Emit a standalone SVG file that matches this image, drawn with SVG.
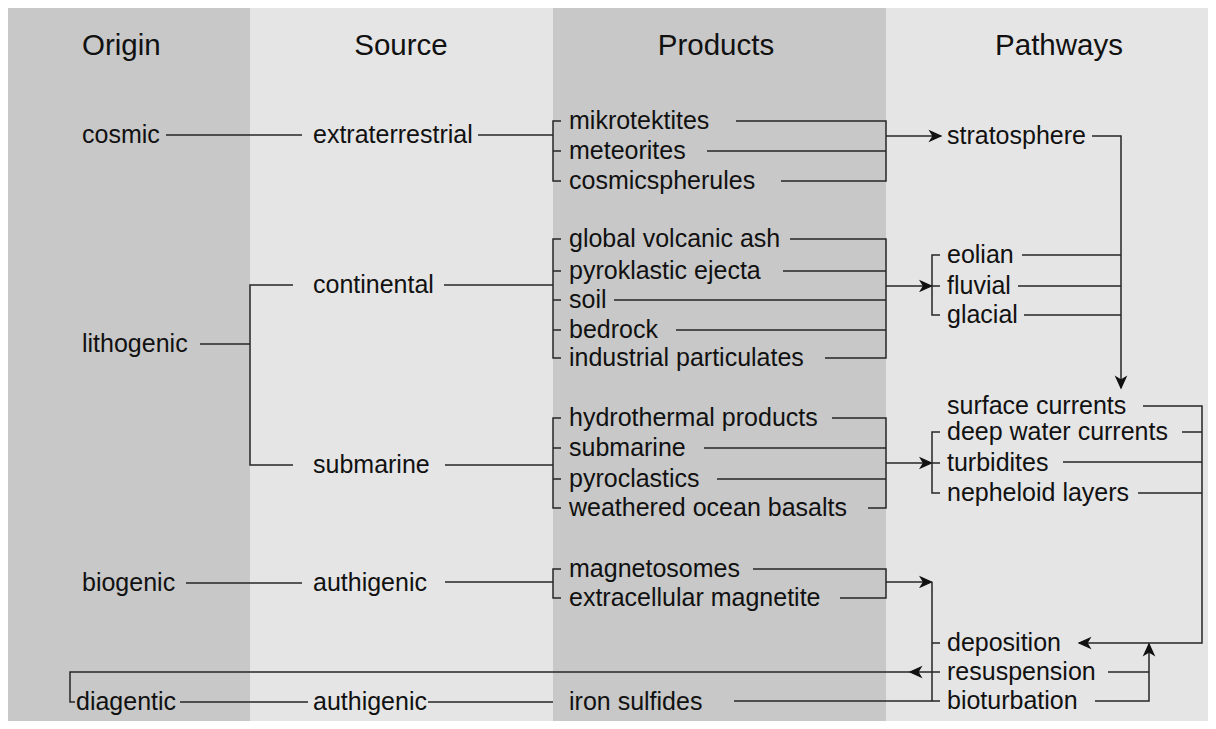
<svg xmlns="http://www.w3.org/2000/svg" width="1216" height="729" viewBox="0 0 1216 729">
<style>
.h{font-family:"Liberation Sans",Arial,sans-serif;font-size:29.5px;fill:#111}
.t{font-family:"Liberation Sans",Arial,sans-serif;font-size:25px;fill:#111}
.c path{fill:none;stroke:#262626;stroke-width:1.5}
</style>
<defs>
<marker id="ar" markerUnits="userSpaceOnUse" markerWidth="16" markerHeight="14" viewBox="-13 -7 16 14" refX="0" refY="0" orient="auto">
<path d="M-11,-5 L0,0 L-11,5 L-8,0 Z" fill="#111" stroke="#111" stroke-width="1.2" stroke-linejoin="miter"/>
</marker>
</defs>
<rect x="0" y="0" width="1216" height="729" fill="#ffffff"/>
<g id="bands">
<rect x="8" y="8" width="242" height="713" fill="#c8c8c8"/>
<rect x="250" y="8" width="303" height="713" fill="#e5e5e5"/>
<rect x="553" y="8" width="333" height="713" fill="#c8c8c8"/>
<rect x="886" y="8" width="322" height="713" fill="#e5e5e5"/>
</g>
<g id="headers">
<text class="h" x="82" y="55">Origin</text>
<text class="h" x="401" y="55" text-anchor="middle">Source</text>
<text class="h" x="716" y="55" text-anchor="middle">Products</text>
<text class="h" x="1059" y="55" text-anchor="middle">Pathways</text>
</g>
<g class="c" id="connectors">
<path d="M166,135 H302"/>
<path d="M478,135 H553"/>
<path d="M561,121 H553 V181 H561 M553,151 H561"/>
<path d="M736,121 H886 V181 H781 M707,151 H886"/>
<path d="M886,136 H941" marker-end="url(#ar)"/>
<path d="M200,344 H250 M293,285 H250 V465 H293"/>
<path d="M444,285 H553"/>
<path d="M561,239 H553 V358 H561 M553,271 H561 M553,300 H561 M553,330 H561"/>
<path d="M790,239 H886 V358 H825 M783,271 H886 M614,300 H886 M676,330 H886"/>
<path d="M886,286 H931.5" marker-end="url(#ar)"/>
<path d="M940,255 H932 V315 H940 M932,286 H940"/>
<path d="M445,465 H553"/>
<path d="M561,418 H553 V508 H561 M553,448 H561 M553,479 H561"/>
<path d="M832,418 H886 V508 H868 M704,448 H886 M717,479 H886"/>
<path d="M886,463 H931.5" marker-end="url(#ar)"/>
<path d="M940,432 H932 V493 H940 M932,463 H940"/>
<path d="M186,583 H302"/>
<path d="M445,582 H553"/>
<path d="M561,569 H553 V598 H561"/>
<path d="M753,569 H886 V598 H840"/>
<path d="M886,582 H931.5" marker-end="url(#ar)"/>
<path d="M932,582 V701 H940 M932,643 H940"/>
<path d="M734,701 H932"/>
<path d="M180,702 H308 M428,702 H553"/>
<path d="M940,672 H910" marker-end="url(#ar)"/>
<path d="M911,672 H70 V702 H75"/>
<path d="M1092,136 H1121 V388" marker-end="url(#ar)"/>
<path d="M1022,255 H1121 M1018,286 H1121 M1024,315 H1121"/>
<path d="M1143,406 H1202 V643 H1079" marker-end="url(#ar)"/>
<path d="M1182,432 H1202 M1063,462 H1202 M1138,493 H1202"/>
<path d="M1108,672 H1149"/>
<path d="M1095,701 H1149 V644" marker-end="url(#ar)"/>
</g>
<g id="n-cosmic"><text class="t" x="82" y="143">cosmic</text></g>
<g id="n-lithogenic"><text class="t" x="82" y="352">lithogenic</text></g>
<g id="n-biogenic"><text class="t" x="82" y="591">biogenic</text></g>
<g id="n-diagentic"><text class="t" x="76" y="710">diagentic</text></g>
<g id="n-extraterrestrial"><text class="t" x="313" y="143">extraterrestrial</text></g>
<g id="n-continental"><text class="t" x="313" y="293">continental</text></g>
<g id="n-submarine-src"><text class="t" x="313" y="473">submarine</text></g>
<g id="n-authigenic-1"><text class="t" x="313" y="591">authigenic</text></g>
<g id="n-authigenic-2"><text class="t" x="313" y="710">authigenic</text></g>
<g id="n-products-cosmic">
<text class="t" x="569" y="129">mikrotektites</text>
<text class="t" x="569" y="159">meteorites</text>
<text class="t" x="569" y="189">cosmicspherules</text>
</g>
<g id="n-products-continental">
<text class="t" x="569" y="247">global volcanic ash</text>
<text class="t" x="569" y="279">pyroklastic ejecta</text>
<text class="t" x="569" y="308">soil</text>
<text class="t" x="569" y="338">bedrock</text>
<text class="t" x="569" y="366">industrial particulates</text>
</g>
<g id="n-products-submarine">
<text class="t" x="569" y="426">hydrothermal products</text>
<text class="t" x="569" y="456">submarine</text>
<text class="t" x="569" y="487">pyroclastics</text>
<text class="t" x="569" y="516">weathered ocean basalts</text>
</g>
<g id="n-products-biogenic">
<text class="t" x="569" y="577">magnetosomes</text>
<text class="t" x="569" y="606">extracellular magnetite</text>
</g>
<g id="n-products-diagentic"><text class="t" x="569" y="710">iron sulfides</text></g>
<g id="n-stratosphere"><text class="t" x="947" y="144">stratosphere</text></g>
<g id="n-land">
<text class="t" x="947" y="263">eolian</text>
<text class="t" x="947" y="294">fluvial</text>
<text class="t" x="947" y="323">glacial</text>
</g>
<g id="n-surface"><text class="t" x="947" y="414">surface currents</text></g>
<g id="n-ocean">
<text class="t" x="947" y="440">deep water currents</text>
<text class="t" x="947" y="471">turbidites</text>
<text class="t" x="947" y="501">nepheloid layers</text>
</g>
<g id="n-sediment">
<text class="t" x="947" y="651">deposition</text>
<text class="t" x="947" y="680">resuspension</text>
<text class="t" x="947" y="709">bioturbation</text>
</g>
</svg>
